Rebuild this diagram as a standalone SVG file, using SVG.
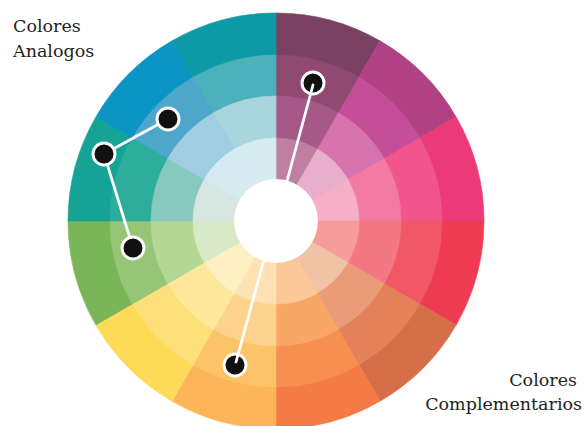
<svg xmlns="http://www.w3.org/2000/svg" xmlns:xlink="http://www.w3.org/1999/xlink" width="584" height="426" viewBox="0 0 584 426">
  <style>
    .lbl { font-family: "DejaVu Serif", "Liberation Serif", serif; font-size: 17.5px; fill: #231F20; }
    .w { fill: currentColor; stroke: currentColor; stroke-width: 0.6; }
    .dot { fill: #111111; stroke: #FFFFFF; stroke-width: 3; }
    .conn { stroke: #FFFFFF; stroke-width: 2.8; stroke-linecap: round; fill: none; }
  </style>
  <defs>
    <path id="w1" class="w" d="M0,0 L0,-208 A208,208 0 0 1 104,-180.133 Z"/>
    <path id="w2" class="w" d="M0,0 L0,-166 A166,166 0 0 1 83,-143.760 Z"/>
    <path id="w3" class="w" d="M0,0 L0,-125 A125,125 0 0 1 62.5,-108.253 Z"/>
    <path id="w4" class="w" d="M0,0 L0,-83 A83,83 0 0 1 41.5,-71.880 Z"/>
  </defs>
  <rect width="584" height="426" fill="#FFFFFF"/>
  <g id="wheel" transform="translate(276,221)">
    <g id="outer-ring">
      <use xlink:href="#w1" href="#w1" color="#7B4163" transform="rotate(0)"/>
      <use xlink:href="#w1" href="#w1" color="#B04284" transform="rotate(30)"/>
      <use xlink:href="#w1" href="#w1" color="#EB3A77" transform="rotate(60)"/>
      <use xlink:href="#w1" href="#w1" color="#EE3B51" transform="rotate(90)"/>
      <use xlink:href="#w1" href="#w1" color="#D76E4A" transform="rotate(120)"/>
      <use xlink:href="#w1" href="#w1" color="#F47A46" transform="rotate(150)"/>
      <use xlink:href="#w1" href="#w1" color="#FDB55A" transform="rotate(180)"/>
      <use xlink:href="#w1" href="#w1" color="#FDDA58" transform="rotate(210)"/>
      <use xlink:href="#w1" href="#w1" color="#7AB657" transform="rotate(240)"/>
      <use xlink:href="#w1" href="#w1" color="#14A394" transform="rotate(270)"/>
      <use xlink:href="#w1" href="#w1" color="#0A95C4" transform="rotate(300)"/>
      <use xlink:href="#w1" href="#w1" color="#0E99A7" transform="rotate(330)"/>
    </g>
    <g id="ring-2">
      <use xlink:href="#w2" href="#w2" color="#904A72" transform="rotate(0)"/>
      <use xlink:href="#w2" href="#w2" color="#C44F98" transform="rotate(30)"/>
      <use xlink:href="#w2" href="#w2" color="#F0558B" transform="rotate(60)"/>
      <use xlink:href="#w2" href="#w2" color="#F15767" transform="rotate(90)"/>
      <use xlink:href="#w2" href="#w2" color="#E38158" transform="rotate(120)"/>
      <use xlink:href="#w2" href="#w2" color="#F78F50" transform="rotate(150)"/>
      <use xlink:href="#w2" href="#w2" color="#FDC369" transform="rotate(180)"/>
      <use xlink:href="#w2" href="#w2" color="#FDE07A" transform="rotate(210)"/>
      <use xlink:href="#w2" href="#w2" color="#97C577" transform="rotate(240)"/>
      <use xlink:href="#w2" href="#w2" color="#2DAE9D" transform="rotate(270)"/>
      <use xlink:href="#w2" href="#w2" color="#4DA7CB" transform="rotate(300)"/>
      <use xlink:href="#w2" href="#w2" color="#4DB1BB" transform="rotate(330)"/>
    </g>
    <g id="ring-3">
      <use xlink:href="#w3" href="#w3" color="#A65986" transform="rotate(0)"/>
      <use xlink:href="#w3" href="#w3" color="#D874AD" transform="rotate(30)"/>
      <use xlink:href="#w3" href="#w3" color="#F37BA3" transform="rotate(60)"/>
      <use xlink:href="#w3" href="#w3" color="#F37883" transform="rotate(90)"/>
      <use xlink:href="#w3" href="#w3" color="#EA9B78" transform="rotate(120)"/>
      <use xlink:href="#w3" href="#w3" color="#F9A766" transform="rotate(150)"/>
      <use xlink:href="#w3" href="#w3" color="#FDD28C" transform="rotate(180)"/>
      <use xlink:href="#w3" href="#w3" color="#FEE89C" transform="rotate(210)"/>
      <use xlink:href="#w3" href="#w3" color="#B5D794" transform="rotate(240)"/>
      <use xlink:href="#w3" href="#w3" color="#88C9BF" transform="rotate(270)"/>
      <use xlink:href="#w3" href="#w3" color="#A0CDE1" transform="rotate(300)"/>
      <use xlink:href="#w3" href="#w3" color="#A8D6DC" transform="rotate(330)"/>
    </g>
    <g id="ring-4">
      <use xlink:href="#w4" href="#w4" color="#BE7FA0" transform="rotate(0)"/>
      <use xlink:href="#w4" href="#w4" color="#E9AECB" transform="rotate(30)"/>
      <use xlink:href="#w4" href="#w4" color="#F6AFC6" transform="rotate(60)"/>
      <use xlink:href="#w4" href="#w4" color="#F69C9B" transform="rotate(90)"/>
      <use xlink:href="#w4" href="#w4" color="#F0C3A6" transform="rotate(120)"/>
      <use xlink:href="#w4" href="#w4" color="#FBC899" transform="rotate(150)"/>
      <use xlink:href="#w4" href="#w4" color="#FEE2B4" transform="rotate(180)"/>
      <use xlink:href="#w4" href="#w4" color="#FEF0C2" transform="rotate(210)"/>
      <use xlink:href="#w4" href="#w4" color="#D7E9C6" transform="rotate(240)"/>
      <use xlink:href="#w4" href="#w4" color="#D8E6E2" transform="rotate(270)"/>
      <use xlink:href="#w4" href="#w4" color="#D5EAF1" transform="rotate(300)"/>
      <use xlink:href="#w4" href="#w4" color="#D7ECF1" transform="rotate(330)"/>
    </g>
    <circle id="center" cx="0" cy="0" r="42" fill="#FFFFFF"/>
  </g>
  <g id="dot-a"><circle class="dot" cx="168" cy="119" r="11"/></g>
  <g id="dot-b"><circle class="dot" cx="104" cy="154" r="11"/></g>
  <g id="dot-c"><circle class="dot" cx="133" cy="248" r="11"/></g>
  <g id="dot-d"><circle class="dot" cx="313" cy="83" r="11"/></g>
  <g id="dot-e"><circle class="dot" cx="235" cy="365" r="11"/></g>
  <g id="connectors">
    <line class="conn" x1="157" y1="125" x2="115" y2="148"/>
    <line class="conn" x1="107.7" y1="165.9" x2="129.3" y2="236.1"/>
    <line class="conn" x1="313" y1="85" x2="287" y2="181"/>
    <line class="conn" x1="263.5" y1="261.5" x2="236" y2="362"/>
  </g>
  <g id="label-analogos">
    <text class="lbl" x="13" y="32">Colores</text>
    <text class="lbl" x="13" y="57">Analogos</text>
  </g>
  <g id="label-complementarios">
    <text class="lbl" x="577" y="386" text-anchor="end">Colores</text>
    <text class="lbl" x="582" y="410" text-anchor="end">Complementarios</text>
  </g>
</svg>
